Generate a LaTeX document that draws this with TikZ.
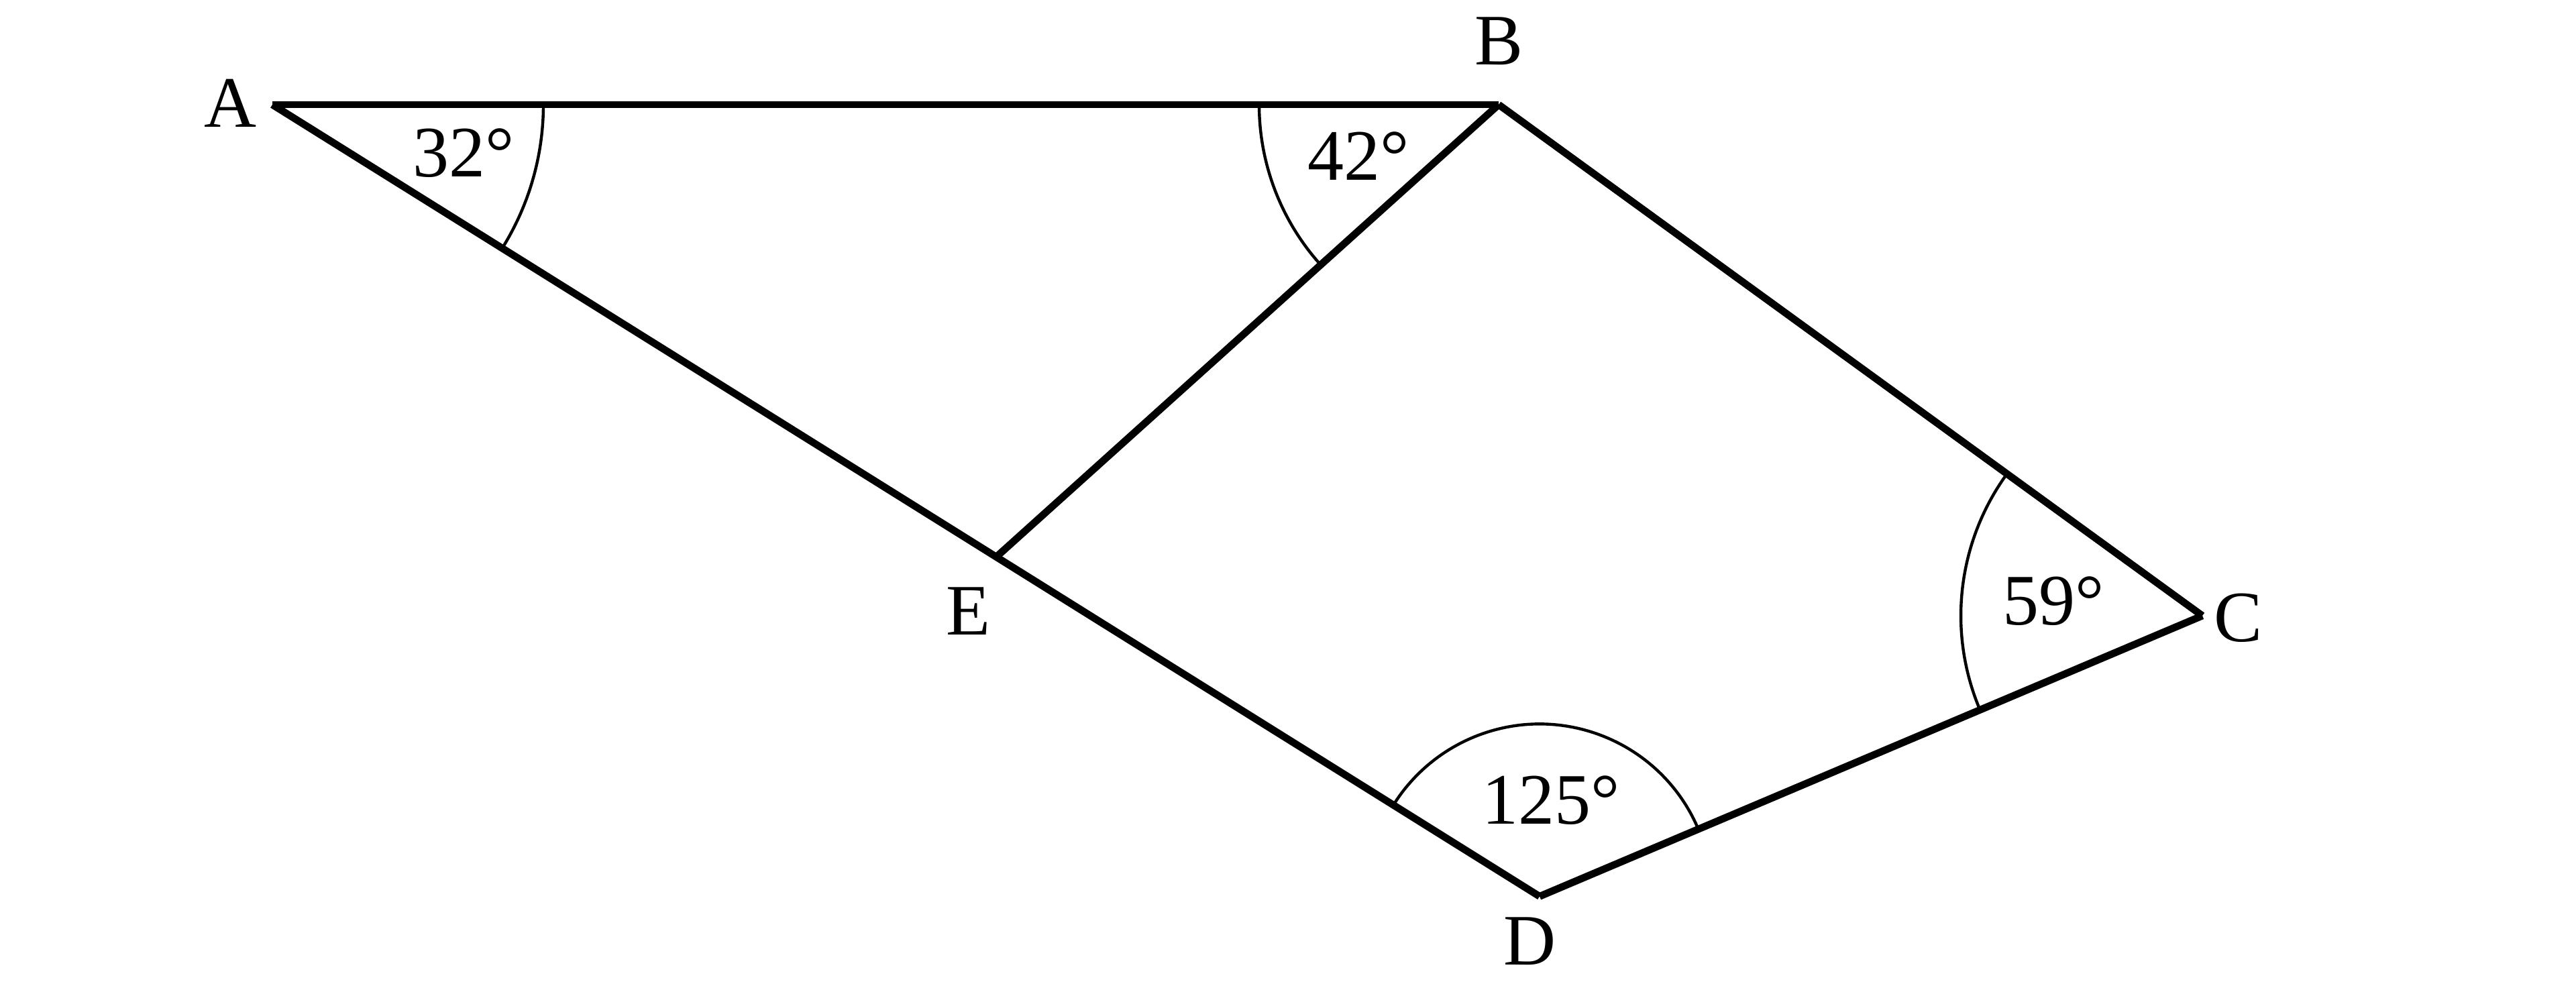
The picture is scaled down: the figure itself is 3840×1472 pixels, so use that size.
\documentclass[tikz,border=0pt]{standalone}
\usepackage{fontspec}
\setmainfont{Liberation Serif}
\usetikzlibrary{calc}
\begin{document}
\begin{tikzpicture}[x=0.25pt,y=0.25pt,
  edge/.style={line width=2.7pt,black},
  anglearc/.style={line width=1.1pt,black},
  lbl/.style={inner sep=0pt,font=\fontsize{27}{32}\selectfont}]
\useasboundingbox (0,0) rectangle (3840,1472);
\coordinate (A) at (406,1316);
\coordinate (B) at (2234,1316);
\coordinate (C) at (3283,554);
\coordinate (D) at (2295,135.6);
\coordinate (Bx) at ($(B)+(222:1500)$);
\coordinate (E) at (intersection of A--D and B--Bx);
% edges
\draw[edge] (A) -- (B);
\draw[edge] (B) -- (C);
\draw[edge] (C) -- (D);
\draw[edge] (D) -- (A);
\draw[edge] (B) -- (E);
% angle arcs
\draw[anglearc] ($(A)+(0:404)$) arc[start angle=0,end angle=-32,radius=404];
\draw[anglearc] ($(B)+(180:357)$) arc[start angle=180,end angle=222,radius=357];
\draw[anglearc] ($(C)+(144:360)$) arc[start angle=144,end angle=203,radius=360];
\draw[anglearc] ($(D)+(23:257)$) arc[start angle=23,end angle=148,radius=257];
% labels
\node[lbl] (a32) at (691,1244) {32°};
\node[lbl] (a42) at (2025,1239) {42°};
\node[lbl] (a59) at (3061,576) {59°};
\node[lbl] (a125) at (2312,279) {125°};
\node[lbl] (lA) at (343,1318) {A};
\node[lbl] (lB) at (2234,1411) {B};
\node[lbl] (lC) at (3336,551) {C};
\node[lbl] (lD) at (2280,69) {D};
\node[lbl] (lE) at (1443,561) {E};
\end{tikzpicture}
\end{document}
